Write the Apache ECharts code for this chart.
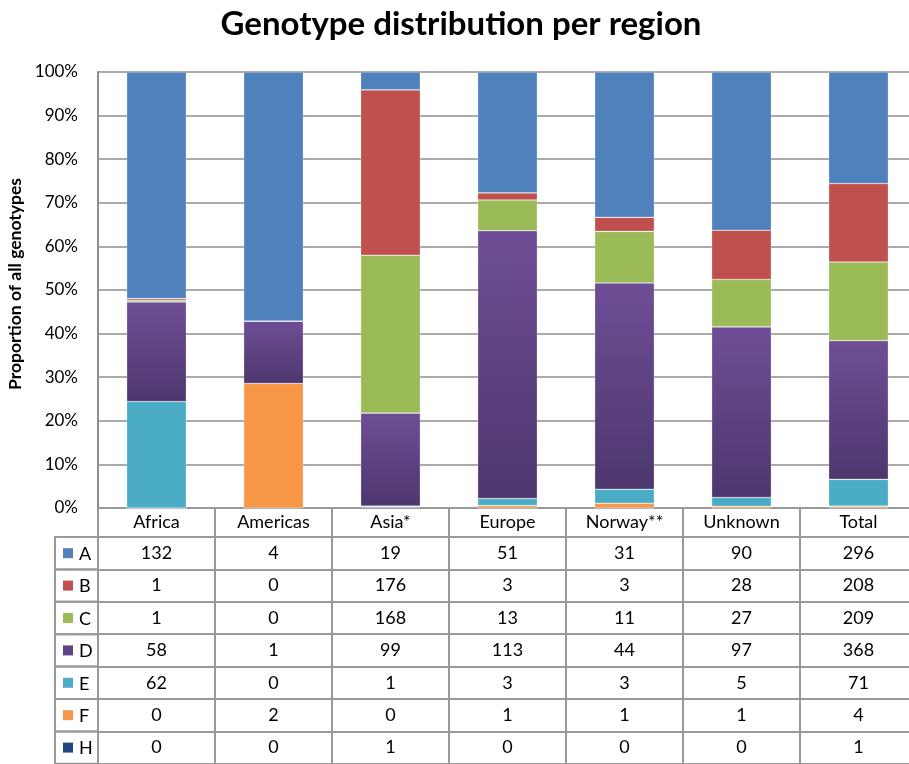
<!DOCTYPE html>
<html>
<head>
<meta charset="utf-8">
<script src="https://cdn.jsdelivr.net/npm/echarts@6/dist/echarts.min.js"></script>
<style>html,body{margin:0;padding:0;background:#fff}#c{width:909px;height:764px}</style>
</head>
<body>
<div id="c"></div>
<script>
const categories = ['Africa','Americas','Asia*','Europe','Norway**','Unknown','Total'];
const genotypes = ['A','B','C','D','E','F','H'];
const A = [132, 4, 19, 51, 31, 90, 296];
const B = [1, 0, 176, 3, 3, 28, 208];
const C = [1, 0, 168, 13, 11, 27, 209];
const D = [58, 1, 99, 113, 44, 97, 368];
const E = [62, 0, 1, 3, 3, 5, 71];
const F = [0, 2, 0, 1, 1, 1, 4];
const H = [0, 0, 1, 0, 0, 0, 1];
const yTicks = [0,10,20,30,40,50,60,70,80,90,100];

const rows = [A,B,C,D,E,F,H];
const colors = {
  A:'#4f81bd', B:'#c0504d', C:'#9bbb59',
  D:{type:'linear',x:0,y:0,x2:0,y2:1,colorStops:[{offset:0,color:'#6f4d96'},{offset:1,color:'#4d376e'}]},
  E:'#4bacc6', F:'#f79646', H:'#1f497d'
};
const keyColors = {A:'#4f81bd',B:'#c0504d',C:'#9bbb59',D:'#5e4383',E:'#4bacc6',F:'#f79646',H:'#1f497d'};
const totals = categories.map((_, j) => rows.reduce((s, r) => s + r[j], 0));

const FONT = 'Lato';
const BODY = 18;
const gridTop = 72, gridLeft = 98, plotBottomY = 508, gridWidth = 819;
const headerH = 29, rowH = 32.4;
const lineColor = '#999';

const xAxes = [{
  type:'category', data:categories, gridIndex:0, position:'bottom', offset:0,
  axisLine:{show:true, lineStyle:{color:lineColor, width:2}},
  axisTick:{show:true, interval:0, length:headerH, lineStyle:{color:lineColor, width:2}},
  axisLabel:{interval:0, margin:headerH/2, verticalAlign:'middle', fontFamily:FONT, fontSize:BODY, color:'#000'}
}];
rows.forEach((r, i) => {
  xAxes.push({
    type:'category', data:categories, gridIndex:0, position:'bottom',
    offset: headerH + i*rowH,
    axisLine:{show:true, lineStyle:{color:lineColor, width:2}},
    axisTick:{show:true, interval:0, length:rowH, lineStyle:{color:lineColor, width:2}},
    axisLabel:{interval:0, margin:rowH/2, verticalAlign:'middle', fontFamily:FONT, fontSize:BODY, color:'#000',
      formatter:(v, idx) => String(r[idx])}
  });
});
xAxes.push({
  type:'category', data:categories, gridIndex:0, position:'bottom',
  offset: headerH + rows.length*rowH,
  axisLine:{show:true, lineStyle:{color:lineColor, width:2}},
  axisTick:{show:false}, axisLabel:{show:false}
});

const stackOrder = ['H','F','E','D','C','B','A'];
const series = stackOrder.map(g => {
  const vals = rows[genotypes.indexOf(g)];
  return {
    name:g, type:'bar', stack:'total', xAxisIndex:0, barWidth:'51%',
    itemStyle:{color:colors[g], borderColor:'rgba(255,255,255,0.45)', borderWidth:0.6},
    data: vals.map((v, j) => v / totals[j] * 100)
  };
});

const graphic = [];
genotypes.forEach((g, i) => {
  const y = plotBottomY + headerH + i*rowH;
  graphic.push({type:'rect', shape:{x:55, y:y, width:gridLeft-55, height:rowH},
    style:{fill:'none', stroke:lineColor, lineWidth:2}, z:10});
  graphic.push({type:'rect', shape:{x:63, y:y+rowH/2-5, width:10, height:10},
    style:{fill:keyColors[g]}, z:11});
  graphic.push({type:'text', x:79, y:y+rowH/2+1, style:{text:g, font:BODY+'px '+FONT, fill:'#000', textVerticalAlign:'middle'}, z:11});
});

const chart = echarts.init(document.getElementById('c'), null, {renderer:'canvas'});
chart.setOption({
  animation:false,
  title:{text:'Genotype distribution per region', left:456, textAlign:'center', top:3,
    textStyle:{fontFamily:FONT, fontWeight:'bold', fontSize:33, color:'#000'}},
  grid:{left:gridLeft, top:gridTop, width:gridWidth, bottom:764-plotBottomY, containLabel:false, outerBoundsMode:'none'},
  xAxis:xAxes,
  yAxis:{type:'value', min:0, max:100, interval:10,
    name:'Proportion of all genotypes', nameLocation:'middle', nameRotate:90, nameGap:71,
    nameTextStyle:{fontFamily:FONT, fontWeight:'bold', fontSize:17.5, color:'#000', padding:[0,0,0,12]},
    axisLine:{show:true, lineStyle:{color:'#8e8e8e', width:2}},
    axisTick:{show:false},
    splitLine:{show:true, lineStyle:{color:'#8e8e8e', width:1.5}},
    axisLabel:{margin:20, fontFamily:FONT, fontSize:17, color:'#000',
      formatter:v => yTicks.includes(v) ? v + '%' : ''}
  },
  series:series,
  graphic:graphic
});
</script>
</body>
</html>
